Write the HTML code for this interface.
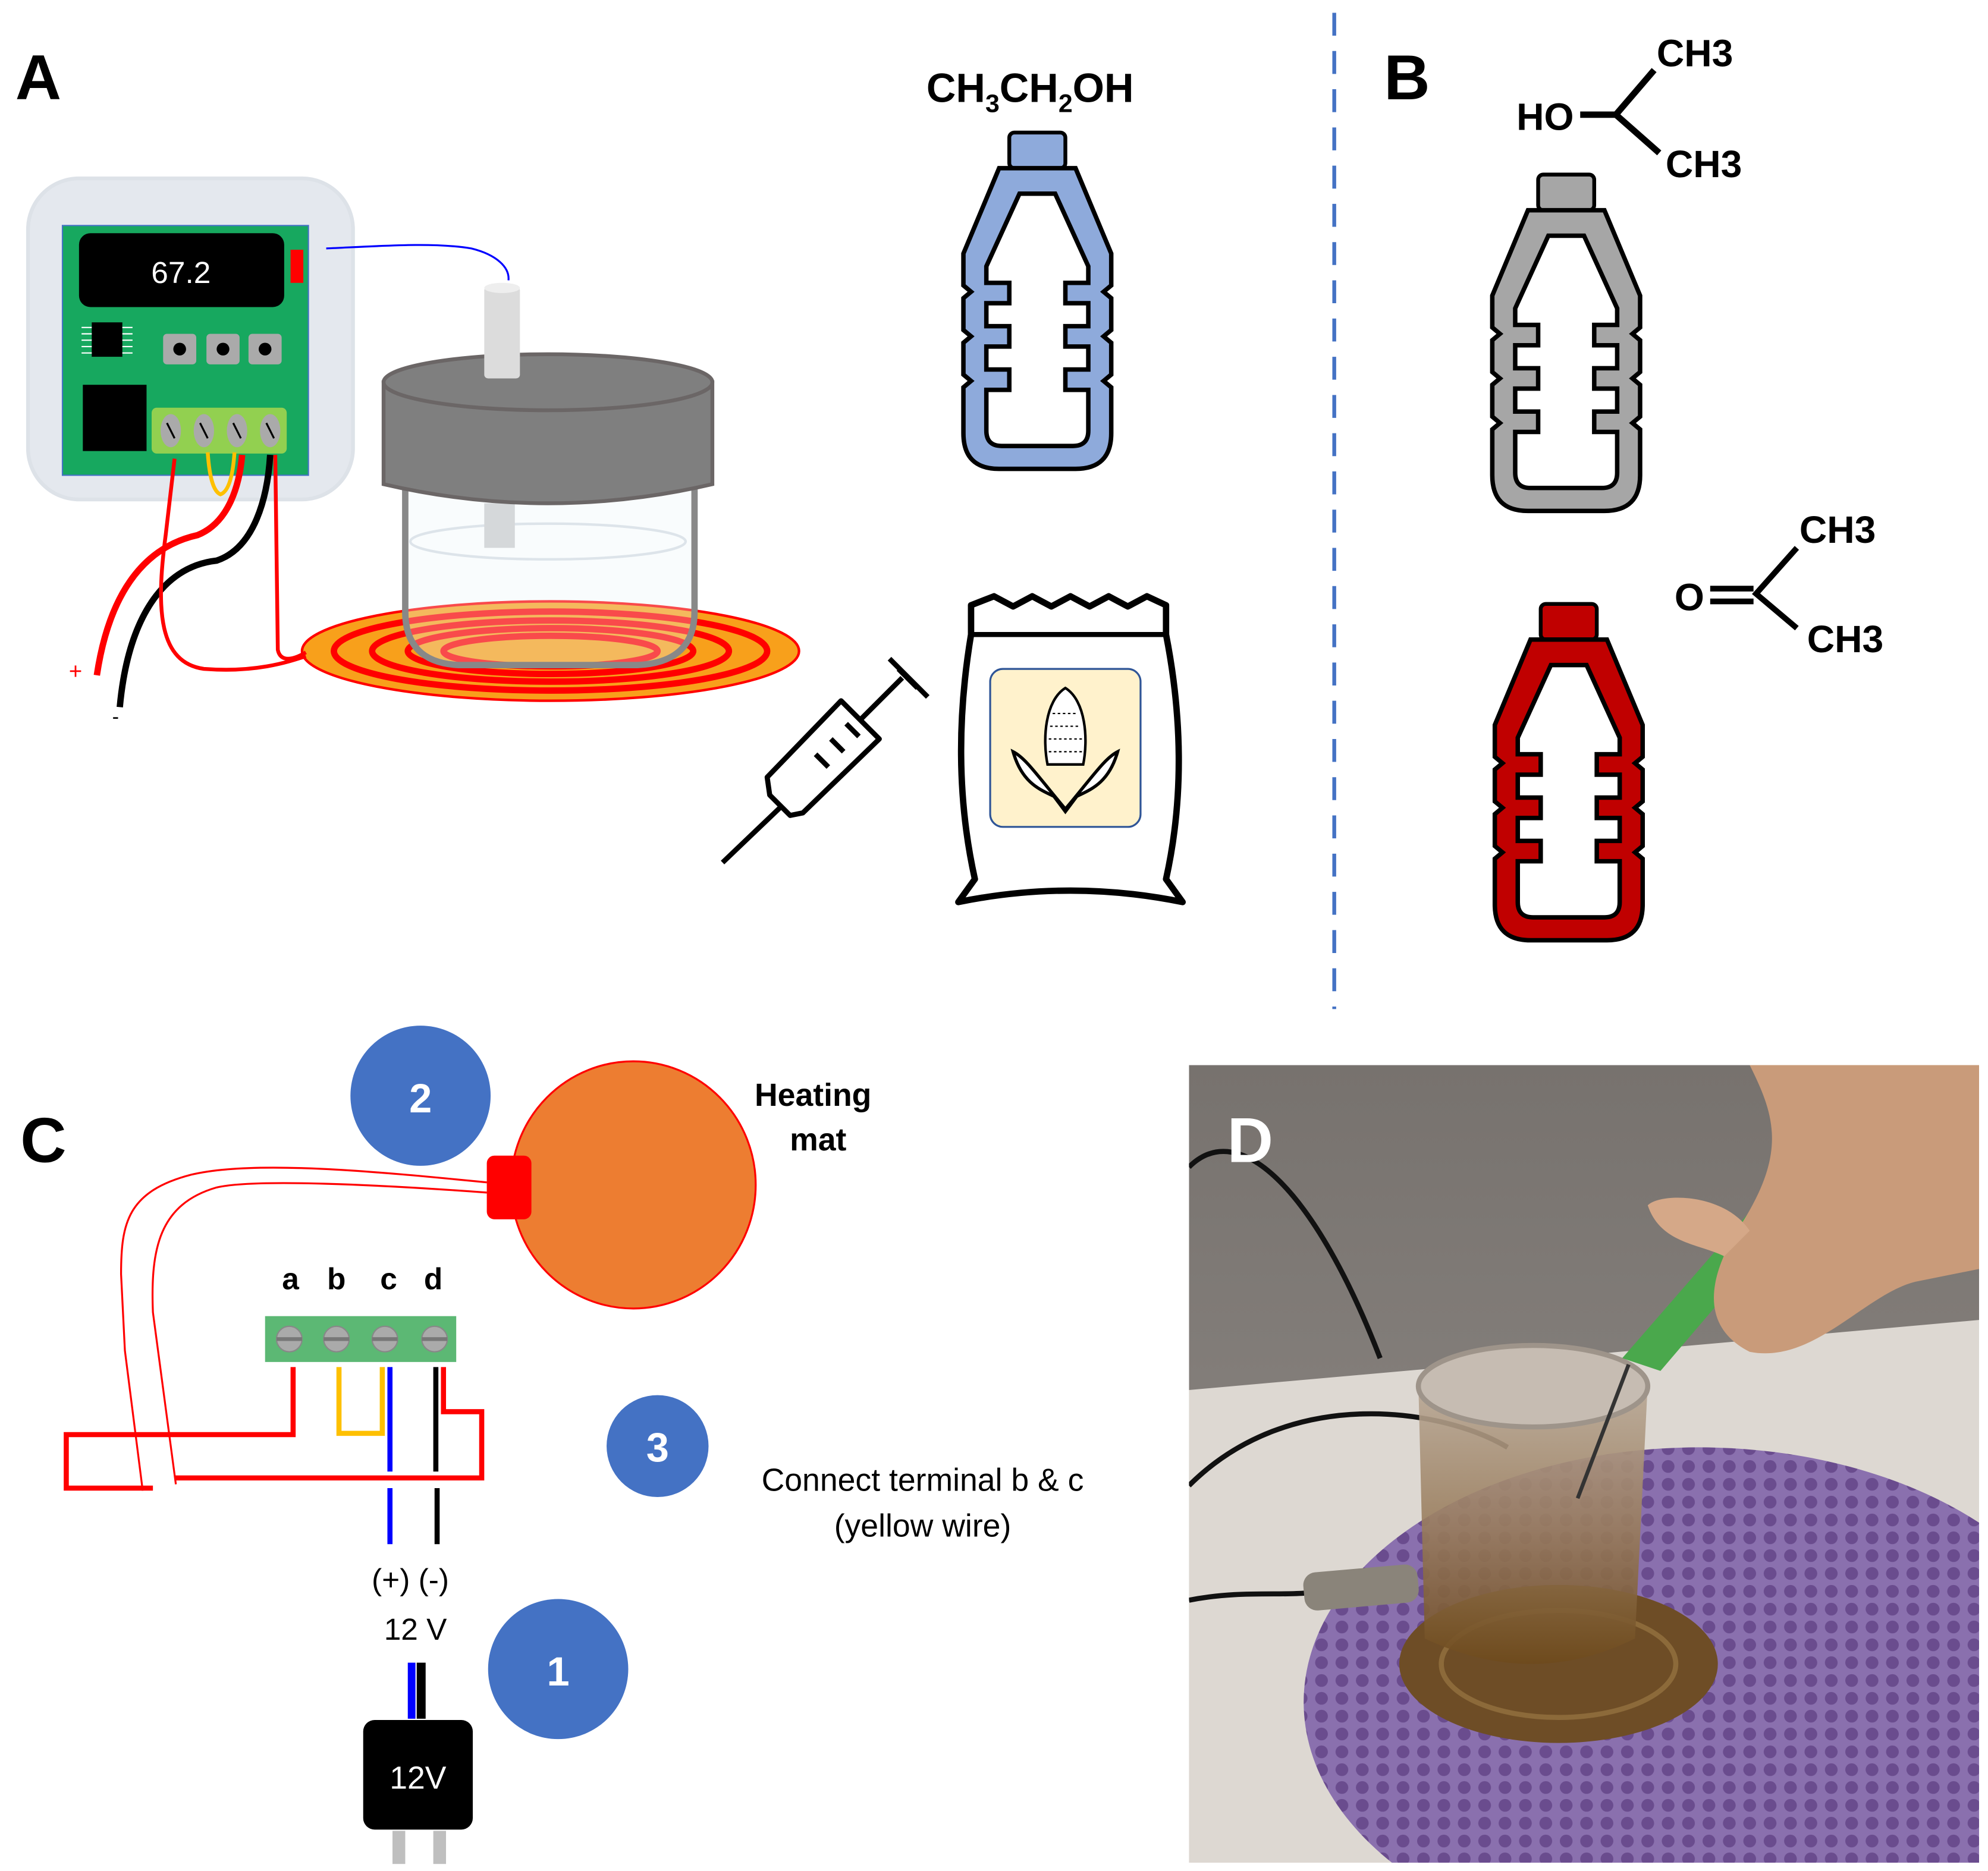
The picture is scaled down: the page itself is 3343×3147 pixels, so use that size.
<!DOCTYPE html>
<html><head><meta charset="utf-8"><style>
html,body{margin:0;padding:0;background:#fff;}
svg{display:block;}
text{font-family:"Liberation Sans",sans-serif;}
</style></head><body>
<svg width="3343" height="3147" viewBox="0 0 1560 1468.5" xmlns="http://www.w3.org/2000/svg">
<defs>
<g id="bottle">
<rect x="-22" y="0" width="44" height="28" rx="4" stroke="#000" stroke-width="3"/>
<path d="M -30 28 L 30 28 L 58 95 L 58 120 L 52 125 L 58 130 L 58 155 L 52 160 L 58 165 L 58 190 L 52 195 L 58 200 L 58 236 Q 58 264 30 264 L -30 264 Q -58 264 -58 236 L -58 200 L -52 195 L -58 190 L -58 165 L -52 160 L -58 155 L -58 130 L -52 125 L -58 120 L -58 95 Z" stroke="#000" stroke-width="3.5"/>
<path d="M -14 48 L 14 48 L 40 105 L 40 118 L 22 118 L 22 134 L 40 134 L 40 152 L 22 152 L 22 168 L 40 168 L 40 186 L 22 186 L 22 202 L 40 202 L 40 234 Q 40 246 28 246 L -28 246 Q -40 246 -40 234 L -40 202 L -22 202 L -22 186 L -40 186 L -40 168 L -22 168 L -22 152 L -40 152 L -40 134 L -22 134 L -22 118 L -40 118 L -40 105 Z" fill="#fff" stroke="#000" stroke-width="3.5"/>
</g>
<linearGradient id="wall" x1="0" y1="0" x2="0" y2="1"><stop offset="0" stop-color="#77726e"/><stop offset="1" stop-color="#938e8a"/></linearGradient>
<linearGradient id="jarg" x1="0" y1="0" x2="0" y2="1"><stop offset="0" stop-color="#b9a896"/><stop offset="0.5" stop-color="#9a7e5e"/><stop offset="1" stop-color="#6e4a1c"/></linearGradient>
<pattern id="hex" width="16" height="14" patternUnits="userSpaceOnUse"><rect width="16" height="14" fill="#8a70ae"/><circle cx="8" cy="7" r="5" fill="#6a4c8e"/></pattern>
</defs>

<!-- Panel A -->
<text x="12" y="78" font-size="50" font-weight="bold">A</text>
<rect x="22" y="140" width="255" height="252" rx="40" fill="#e4e8ee" stroke="#dde2e8" stroke-width="3"/>
<rect x="49" y="177" width="193" height="196" fill="#17a85f" stroke="#4472c4" stroke-width="1"/>
<rect x="62" y="183" width="161" height="58" rx="9" fill="#000"/>
<text x="142" y="222" font-size="24" fill="#fff" text-anchor="middle">67.2</text>
<rect x="228" y="196" width="10" height="26" fill="#f00"/>
<rect x="72" y="253" width="24" height="27" fill="#000"/>
<g stroke="#fff" stroke-width="1"><line x1="64" y1="257" x2="72" y2="257"/><line x1="64" y1="262" x2="72" y2="262"/><line x1="64" y1="267" x2="72" y2="267"/><line x1="64" y1="272" x2="72" y2="272"/><line x1="64" y1="277" x2="72" y2="277"/><line x1="96" y1="257" x2="104" y2="257"/><line x1="96" y1="262" x2="104" y2="262"/><line x1="96" y1="267" x2="104" y2="267"/><line x1="96" y1="272" x2="104" y2="272"/><line x1="96" y1="277" x2="104" y2="277"/></g>
<g fill="#aaa"><rect x="128" y="262" width="26" height="24" rx="3"/><rect x="162" y="262" width="26" height="24" rx="3"/><rect x="195" y="262" width="26" height="24" rx="3"/></g>
<g fill="#000"><circle cx="141" cy="274" r="5"/><circle cx="175" cy="274" r="5"/><circle cx="208" cy="274" r="5"/></g>
<rect x="65" y="302" width="50" height="52" fill="#000"/>
<rect x="119" y="320" width="106" height="36" rx="4" fill="#92d050"/>
<g fill="#aaa"><ellipse cx="134" cy="338" rx="8" ry="13"/><ellipse cx="160" cy="338" rx="8" ry="13"/><ellipse cx="186" cy="338" rx="8" ry="13"/><ellipse cx="212" cy="338" rx="8" ry="13"/></g>
<g stroke="#000" stroke-width="1.5"><line x1="131" y1="332" x2="137" y2="344"/><line x1="157" y1="332" x2="163" y2="344"/><line x1="183" y1="332" x2="189" y2="344"/><line x1="209" y1="332" x2="215" y2="344"/></g>
<path d="M 256 195 C 300 193 340 190 370 195 C 390 200 400 210 399 220" fill="none" stroke="#00f" stroke-width="1.5"/>
<ellipse cx="432" cy="511" rx="195" ry="39" fill="#f8a01b" stroke="#f00" stroke-width="2"/>
<g fill="none" stroke="#f00" stroke-width="5"><ellipse cx="432" cy="511" rx="170" ry="31"/><ellipse cx="432" cy="511" rx="140" ry="24"/><ellipse cx="432" cy="511" rx="112" ry="18"/><ellipse cx="432" cy="511" rx="84" ry="12"/></g>
<path d="M 318 380 L 318 480 Q 318 520 360 522 L 500 522 Q 545 520 545 480 L 545 380" fill="rgba(235,245,250,0.3)" stroke="#888" stroke-width="5"/>
<ellipse cx="430" cy="425" rx="108" ry="14" fill="none" stroke="#dde4ea" stroke-width="2"/>
<rect x="380" y="395" width="24" height="35" fill="#d5d8da"/>
<path d="M 301 300 L 301 380 Q 430 410 559 380 L 559 300 Z" fill="#7f7f7f" stroke="#6b6666" stroke-width="3"/>
<ellipse cx="430" cy="300" rx="129" ry="22" fill="#7f7f7f" stroke="#6b6666" stroke-width="3"/>
<rect x="380" y="225" width="28" height="72" rx="3" fill="#dcdcdc"/>
<ellipse cx="394" cy="226" rx="14" ry="4" fill="#eee"/>
<path d="M 190 357 C 188 380 180 410 155 420 C 110 430 85 470 76 530" fill="none" stroke="#f00" stroke-width="5"/>
<path d="M 212 357 C 210 390 200 430 170 440 C 125 445 100 490 94 555" fill="none" stroke="#000" stroke-width="5"/>
<path d="M 137 360 L 130 420 C 122 480 125 520 160 525 C 200 528 225 520 240 515" fill="none" stroke="#f00" stroke-width="3"/>
<path d="M 216 357 L 218 510 C 220 520 230 518 240 512" fill="none" stroke="#f00" stroke-width="3"/>
<path d="M 163 355 Q 165 385 173 388 Q 182 385 184 355" fill="none" stroke="#fec000" stroke-width="3"/>
<text x="54" y="533" font-size="18" fill="#f00">+</text>
<text x="88" y="568" font-size="16">-</text>
<text x="727" y="80" font-size="32" font-weight="bold">CH<tspan font-size="20" dy="8">3</tspan><tspan dy="-8">CH</tspan><tspan font-size="20" dy="8">2</tspan><tspan dy="-8">OH</tspan></text>
<use href="#bottle" x="814" y="104" fill="#8eaadb"/>
<g fill="none" stroke="#000" stroke-width="4" stroke-linejoin="round">
<line x1="567" y1="677" x2="612" y2="634"/>
<path d="M 604 624 L 620 640 L 630 638 L 690 580 L 660 550 L 602 610 L 604 624 Z"/>
<line x1="675" y1="565" x2="708" y2="532"/>
<line x1="698" y1="517" x2="728" y2="547"/>
<line x1="705" y1="525" x2="720" y2="540"/>
<line x1="640" y1="592" x2="650" y2="602"/><line x1="652" y1="580" x2="662" y2="590"/><line x1="664" y1="568" x2="674" y2="578"/>
</g>
<path d="M 762 475 L 780 468 L 795 476 L 810 468 L 825 476 L 840 468 L 855 476 L 870 468 L 885 476 L 900 468 L 915 475 L 915 498 Q 935 600 915 690 L 928 708 Q 840 690 752 708 L 765 690 Q 745 600 762 498 Z" fill="#fff" stroke="#000" stroke-width="5" stroke-linejoin="round"/>
<line x1="762" y1="498" x2="915" y2="498" stroke="#000" stroke-width="4"/>
<rect x="777" y="525" width="118" height="124" rx="10" fill="#fff2cc" stroke="#2f5597" stroke-width="1.5"/>
<path d="M 836 540 C 820 550 818 580 822 600 L 850 600 C 854 580 852 550 836 540 Z" fill="#fff" stroke="#000" stroke-width="2"/>
<path d="M 795 590 C 805 595 815 610 836 635 C 857 610 867 595 877 590 C 870 615 855 620 845 625 L 836 637 L 827 625 C 817 620 802 615 795 590 Z" fill="#fff" stroke="#000" stroke-width="2.5"/>
<g stroke="#000" stroke-width="1" stroke-dasharray="2,2"><line x1="826" y1="560" x2="846" y2="560"/><line x1="824" y1="570" x2="848" y2="570"/><line x1="823" y1="580" x2="849" y2="580"/><line x1="823" y1="590" x2="849" y2="590"/></g>

<line x1="1047" y1="10" x2="1047" y2="792" stroke="#4472c4" stroke-width="3" stroke-dasharray="18,12"/>

<text x="1086" y="78" font-size="50" font-weight="bold">B</text>
<text x="1190" y="102" font-size="30" font-weight="bold">HO</text>
<text x="1300" y="52" font-size="30" font-weight="bold">CH3</text>
<text x="1307" y="139" font-size="30" font-weight="bold">CH3</text>
<g stroke="#000" stroke-width="5" fill="none"><line x1="1240" y1="90" x2="1268" y2="90"/><polyline points="1298,55 1268,90 1302,120"/></g>
<use href="#bottle" x="1229" y="137" fill="#a6a6a6"/>
<text x="1412" y="426" font-size="30" font-weight="bold">CH3</text>
<text x="1418" y="512" font-size="30" font-weight="bold">CH3</text>
<text x="1314" y="479" font-size="30" font-weight="bold">O</text>
<g stroke="#000" stroke-width="4.5" fill="none"><line x1="1342" y1="462" x2="1376" y2="462"/><line x1="1342" y1="472" x2="1376" y2="472"/><polyline points="1410,430 1378,466 1410,493"/></g>
<use href="#bottle" x="1231" y="474" fill="#c00000"/>

<text x="16" y="912" font-size="50" font-weight="bold">C</text>
<circle cx="330" cy="860" r="55" fill="#4472c4"/>
<text x="330" y="873" font-size="32" font-weight="bold" fill="#fff" text-anchor="middle">2</text>
<ellipse cx="497" cy="930" rx="96" ry="97" fill="#ed7d31" stroke="#f00" stroke-width="1.5"/>
<rect x="382" y="907" width="35" height="50" rx="6" fill="#f00"/>
<text x="638" y="868" font-size="25" font-weight="bold" text-anchor="middle">Heating</text>
<text x="642" y="903" font-size="25" font-weight="bold" text-anchor="middle">mat</text>
<g fill="none" stroke="#f00" stroke-width="1.5">
<path d="M 382 928 C 300 920 200 910 150 922 C 100 935 95 960 95 1000 L 98 1060 L 112 1170"/>
<path d="M 382 936 C 300 930 200 925 170 932 C 125 945 118 980 120 1030 L 138 1165"/>
</g>
<g font-size="24" font-weight="bold" text-anchor="middle"><text x="228" y="1012">a</text><text x="264" y="1012">b</text><text x="305" y="1012">c</text><text x="340" y="1012">d</text></g>
<rect x="208" y="1033" width="150" height="36" fill="#5cb874"/>
<g fill="#aaa" stroke="#888" stroke-width="1"><circle cx="227" cy="1051" r="10"/><circle cx="264" cy="1051" r="10"/><circle cx="302" cy="1051" r="10"/><circle cx="341" cy="1051" r="10"/></g>
<g stroke="#777" stroke-width="3"><line x1="217" y1="1051" x2="237" y2="1051"/><line x1="254" y1="1051" x2="274" y2="1051"/><line x1="292" y1="1051" x2="312" y2="1051"/><line x1="331" y1="1051" x2="351" y2="1051"/></g>
<g fill="none" stroke-width="4">
<polyline points="230,1073 230,1126 52,1126 52,1168 120,1168" stroke="#f00"/>
<polyline points="348,1073 348,1108 378,1108 378,1160 137,1160" stroke="#f00"/>
<polyline points="266,1073 266,1125 300,1125 300,1073" stroke="#fec000"/>
<line x1="306" y1="1073" x2="306" y2="1155" stroke="#00f"/>
<line x1="342" y1="1073" x2="342" y2="1155" stroke="#000"/>
<line x1="306" y1="1168" x2="306" y2="1212" stroke="#00f"/>
<line x1="343" y1="1168" x2="343" y2="1212" stroke="#000"/>
</g>
<circle cx="516" cy="1135" r="40" fill="#4472c4"/>
<text x="516" y="1147" font-size="32" font-weight="bold" fill="#fff" text-anchor="middle">3</text>
<text x="724" y="1170" font-size="25" text-anchor="middle">Connect terminal b &amp; c</text>
<text x="724" y="1206" font-size="25" text-anchor="middle">(yellow wire)</text>
<text x="322" y="1248" font-size="24" text-anchor="middle">(+)  (-)</text>
<text x="326" y="1287" font-size="24" text-anchor="middle">12 V</text>
<circle cx="438" cy="1310" r="55" fill="#4472c4"/>
<text x="438" y="1323" font-size="32" font-weight="bold" fill="#fff" text-anchor="middle">1</text>
<rect x="320" y="1305" width="6" height="44" fill="#00f"/>
<rect x="327" y="1305" width="7" height="44" fill="#000"/>
<rect x="285" y="1350" width="86" height="86" rx="9" fill="#000"/>
<text x="328" y="1404" font-size="25" fill="#fff" text-anchor="middle">12V</text>
<rect x="308" y="1437" width="10" height="26" fill="#bfbfbf"/>
<rect x="340" y="1437" width="10" height="26" fill="#bfbfbf"/>

<svg x="933" y="836" width="620" height="626" viewBox="0 0 620 626">
<rect width="620" height="626" fill="url(#wall)"/>
<path d="M 0 255 L 620 200 L 620 626 L 0 626 Z" fill="#ddd8d2"/>
<ellipse cx="400" cy="500" rx="310" ry="200" fill="url(#hex)"/>
<path d="M 0 80 C 40 40 100 100 150 230" fill="none" stroke="#111" stroke-width="4"/>
<path d="M 0 330 C 80 250 200 270 250 300" fill="none" stroke="#111" stroke-width="4"/>
<path d="M 0 420 C 50 410 90 420 110 410" fill="none" stroke="#111" stroke-width="4"/>
<ellipse cx="290" cy="470" rx="125" ry="62" fill="#6e4d26"/>
<ellipse cx="290" cy="470" rx="92" ry="42" fill="none" stroke="#8c6a3a" stroke-width="4"/>
<path d="M 180 250 L 185 450 Q 270 490 350 450 L 360 250 Z" fill="url(#jarg)" opacity="0.9"/>
<ellipse cx="270" cy="252" rx="90" ry="32" fill="#c6bcb2" stroke="#9e948a" stroke-width="4"/>
<rect x="90" y="395" width="90" height="30" rx="10" fill="#8a847a" transform="rotate(-5 135 410)"/>
<path d="M 540 0 L 575 0 L 370 240 L 340 230 Z" fill="#4aa84c"/>
<line x1="345" y1="235" x2="305" y2="340" stroke="#333" stroke-width="3"/>
<path d="M 440 0 C 460 40 470 70 430 130 C 400 180 410 210 440 225 C 490 235 530 180 570 170 L 620 160 L 620 0 Z" fill="#c99b7a"/>
<path d="M 360 110 C 370 100 420 100 440 130 L 420 150 C 400 140 370 140 360 110 Z" fill="#d5a888"/>
</svg>
<text x="963" y="912" font-size="50" font-weight="bold" fill="#fff">D</text>
</svg>
</body></html>
